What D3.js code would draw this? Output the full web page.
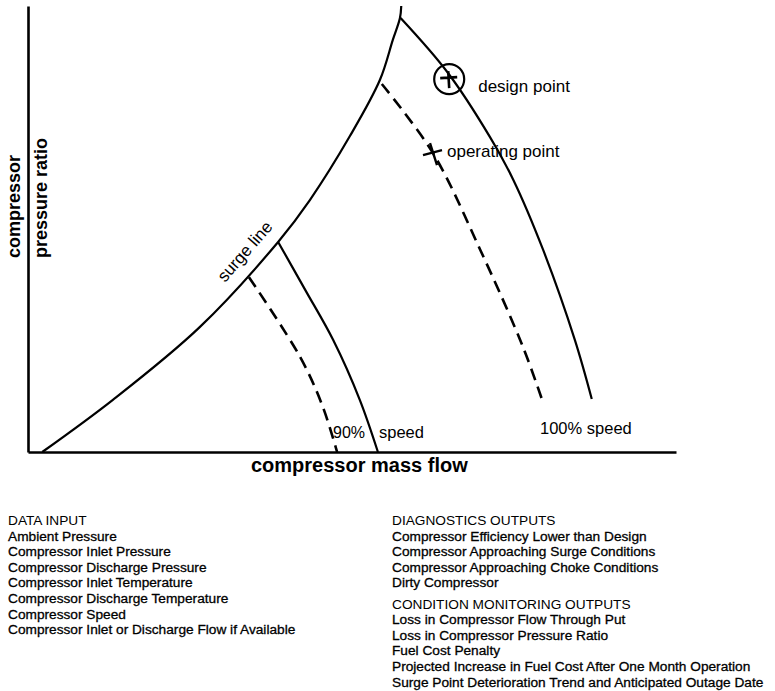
<!DOCTYPE html>
<html>
<head>
<meta charset="utf-8">
<script src="https://cdn.jsdelivr.net/npm/d3@7"></script>
<style>
  body { margin: 0; background: #fff; }
  text { font-family: "Liberation Sans", Arial, Helvetica, sans-serif; fill: #000; }
</style>
</head>
<body>
<div id="chart"></div>
<script>
// curves in chart units: x = mass flow (0-100), y = pressure ratio (0-100)
const surgeLine = [[2.2, 0], [13.1, 11.7], [26.5, 28.0], [38.6, 47.1], [43.5, 56.5], [49.7, 70.9], [54.3, 83.4], [56.3, 92.4], [57.4, 97.3], [57.6, 100]];
const speed100 = [[57.5, 97.3], [64.7, 85.2], [71.3, 70.6], [74.9, 61.0], [79.5, 45.3], [84.4, 25.1], [87.0, 11.9]];
const speed100Actual = [[54.6, 82.5], [62.5, 67.0], [69.8, 45.3], [76.4, 23.5], [79.5, 11.0]];
const speed90 = [[38.6, 47.1], [42.8, 36.3], [47.1, 25.1], [51.2, 11.7], [54.0, 0]];
const speed90Actual = [[34.1, 39.2], [42.0, 21.3], [45.4, 10.5], [47.7, 0]];
const designPoint = [65.0, 83.6];
const operatingPoint = [62.5, 67.0];

const dataInput = ['Ambient Pressure', 'Compressor Inlet Pressure', 'Compressor Discharge Pressure',
    'Compressor Inlet Temperature', 'Compressor Discharge Temperature', 'Compressor Speed',
    'Compressor Inlet or Discharge Flow if Available'];
const diagnostics = ['Compressor Efficiency Lower than Design', 'Compressor Approaching Surge Conditions',
    'Compressor Approaching Choke Conditions', 'Dirty Compressor'];
const monitoring = ['Loss in Compressor Flow Through Put', 'Loss in Compressor Pressure Ratio', 'Fuel Cost Penalty',
    'Projected Increase in Fuel Cost After One Month Operation',
    'Surge Point Deterioration Trend and Anticipated Outage Date'];

const chart_width = 775;
const chart_height = 691;

const svg = d3.select('#chart')
    .append('svg')
    .attr('width', chart_width)
    .attr('height', chart_height);

// scales
const x_scale = d3.scaleLinear().domain([0, 100]).range([28, 676]);
const y_scale = d3.scaleLinear().domain([0, 100]).range([452, 6]);

// axes (lines only)
svg.append('g')
    .attr('transform', `translate(0,${y_scale(0)})`)
    .call(d3.axisBottom(x_scale).ticks(0).tickSizeOuter(0));
svg.append('g')
    .attr('transform', `translate(${x_scale(0)},0)`)
    .call(d3.axisLeft(y_scale).ticks(0).tickSizeOuter(0));
svg.selectAll('.domain').attr('stroke', '#000').attr('stroke-width', 2.6);

const line = d3.line()
    .x(d => x_scale(d[0]))
    .y(d => y_scale(d[1]))
    .curve(d3.curveCatmullRom);

function drawCurve(data, dashed) {
    svg.append('path')
        .datum(data)
        .attr('d', line)
        .attr('fill', 'none')
        .attr('stroke', '#000')
        .attr('stroke-width', dashed ? 2.6 : 2.2)
        .attr('stroke-dasharray', dashed ? '12,7' : null);
}

drawCurve(surgeLine, false);
drawCurve(speed100, false);
drawCurve(speed90, false);
drawCurve(speed100Actual, true);
drawCurve(speed90Actual, true);

// design point: circle with cross
const dp = svg.append('g')
    .attr('transform', `translate(${x_scale(designPoint[0])},${y_scale(designPoint[1])})`);
dp.append('circle').attr('r', 15).attr('fill', 'none').attr('stroke', '#000').attr('stroke-width', 2.2);
dp.append('path').attr('d', 'M-9,-1L8,-2M-1,-8L0,9')
    .attr('stroke', '#000').attr('stroke-width', 2.6).attr('fill', 'none');

// operating point cross
svg.append('path')
    .attr('transform', `translate(${x_scale(operatingPoint[0])},${y_scale(operatingPoint[1])})`)
    .attr('d', 'M-10,2L9,-3M-3,-10L4,12')
    .attr('stroke', '#000').attr('stroke-width', 2.4).attr('fill', 'none');

// annotations
const ann = (x, y, t, size) => svg.append('text')
    .attr('x', x).attr('y', y).attr('font-size', size || 17).text(t);

ann(x_scale(designPoint[0]) + 29, y_scale(designPoint[1]) + 13, 'design point');
ann(x_scale(operatingPoint[0]) + 14, y_scale(operatingPoint[1]) + 4, 'operating point');
ann(540, 434, '100% speed', 16.5);
ann(333, 438, '90%', 16);
ann(379, 438, 'speed', 16.5);

svg.append('text')
    .attr('transform', 'translate(225,283) rotate(-49)')
    .attr('font-size', 17)
    .text('surge line');

// axis titles
svg.append('text')
    .attr('transform', 'translate(20,258) rotate(-90)')
    .attr('font-size', 18).attr('font-weight', 'bold')
    .text('compressor');
svg.append('text')
    .attr('transform', 'translate(47,258) rotate(-90)')
    .attr('font-size', 18).attr('font-weight', 'bold')
    .text('pressure ratio');
svg.append('text')
    .attr('x', 251).attr('y', 472)
    .attr('font-size', 20).attr('font-weight', 'bold')
    .text('compressor mass flow');

// text blocks below chart
function block(x, y, title, items) {
    svg.append('text').attr('x', x).attr('y', y).attr('font-size', 13.7).text(title);
    svg.selectAll(null)
        .data(items)
        .enter()
        .append('text')
        .attr('x', x)
        .attr('y', (d, i) => y + 15.6 * (i + 1))
        .attr('font-size', 13.7)
        .attr('stroke', '#000')
        .attr('stroke-width', 0.3)
        .text(d => d);
}

block(8, 525, 'DATA INPUT', dataInput);
block(392, 525, 'DIAGNOSTICS OUTPUTS', diagnostics);
block(392, 608.5, 'CONDITION MONITORING OUTPUTS', monitoring);
</script>
</body>
</html>
